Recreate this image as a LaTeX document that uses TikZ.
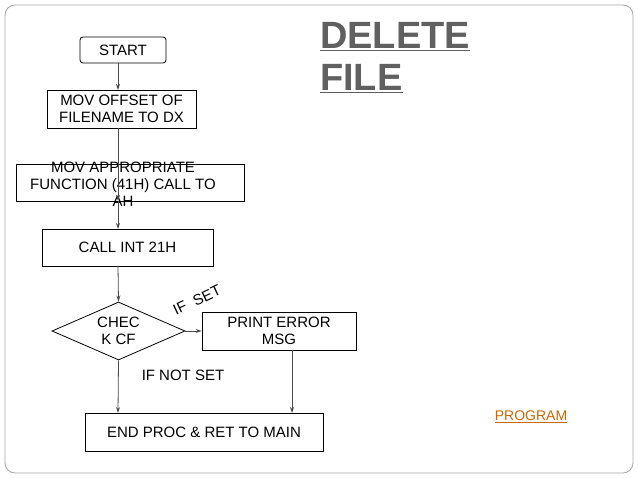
\documentclass[tikz,border=0pt]{standalone}
\usepackage{fontspec}
\setmainfont{Liberation Sans}
\usetikzlibrary{shapes.geometric,arrows.meta}
\begin{document}
\begin{tikzpicture}[x=1pt,y=-1pt,
  box/.style={draw,thick,inner sep=0pt,font=\fontsize{15}{17}\selectfont,align=center},
  arr/.style={-{Stealth[length=6pt,width=4pt]},thick,gray!60!black},
  lbl/.style={font=\fontsize{15}{17}\selectfont}]
\useasboundingbox (0,0) rectangle (638,478);
\draw[gray!70,thick,rounded corners=10pt] (5,5) rectangle (633,473);
\node[box,rounded corners=3pt,minimum width=86pt,minimum height=26pt] (start) at (123,50) {START};
\node[box,minimum width=149pt,minimum height=38pt] (mov1) at (121.5,109) {MOV OFFSET OF\\FILENAME TO DX};
\draw[thick] (16,164) rectangle (244,201);
\node[lbl,align=center,inner sep=0pt] (mov2) at (123,184) {MOV APPROPRIATE\\FUNCTION (41H) CALL TO\\AH};
\node[box,minimum width=171pt,minimum height=37pt] (call) at (127.5,247.5) {CALL INT 21H};
\node[box,diamond,aspect=2.3,minimum width=133pt,minimum height=58pt] (chk) at (118.5,331) {CHEC\\K CF};
\node[box,minimum width=154pt,minimum height=38pt] (err) at (279,331) {PRINT ERROR\\MSG};
\node[box,minimum width=238pt,minimum height=38pt] (end) at (204,432) {END PROC \& RET TO MAIN};
\node[lbl,rotate=25,inner sep=0pt] (ifset) at (197,300) {IF\ \ SET};
\node[lbl] (ifnot) at (183,375) {IF NOT SET};
\node[font=\bfseries\fontsize{38}{42}\selectfont,text=gray!75!black,align=left,anchor=north west,inner sep=0pt] (title) at (320,22) {\underline{DELETE}\\\underline{FILE}};
\node[font=\fontsize{14}{16}\selectfont,text=orange!80!black,inner sep=0pt] (prog) at (531,417) {\underline{PROGRAM}};
\draw[arr] (118,63) -- (118,90);
\draw[arr] (118,128) -- (118,201);
\draw[arr] (118,201) -- (118,229);
\draw[arr] (118,266) -- (chk.north);
\draw[arr] (chk.east) -- (err.west);
\draw[arr] (chk.south) -- (118,413);
\draw[arr] (292,350) -- (292,413);
\end{tikzpicture}
\end{document}
